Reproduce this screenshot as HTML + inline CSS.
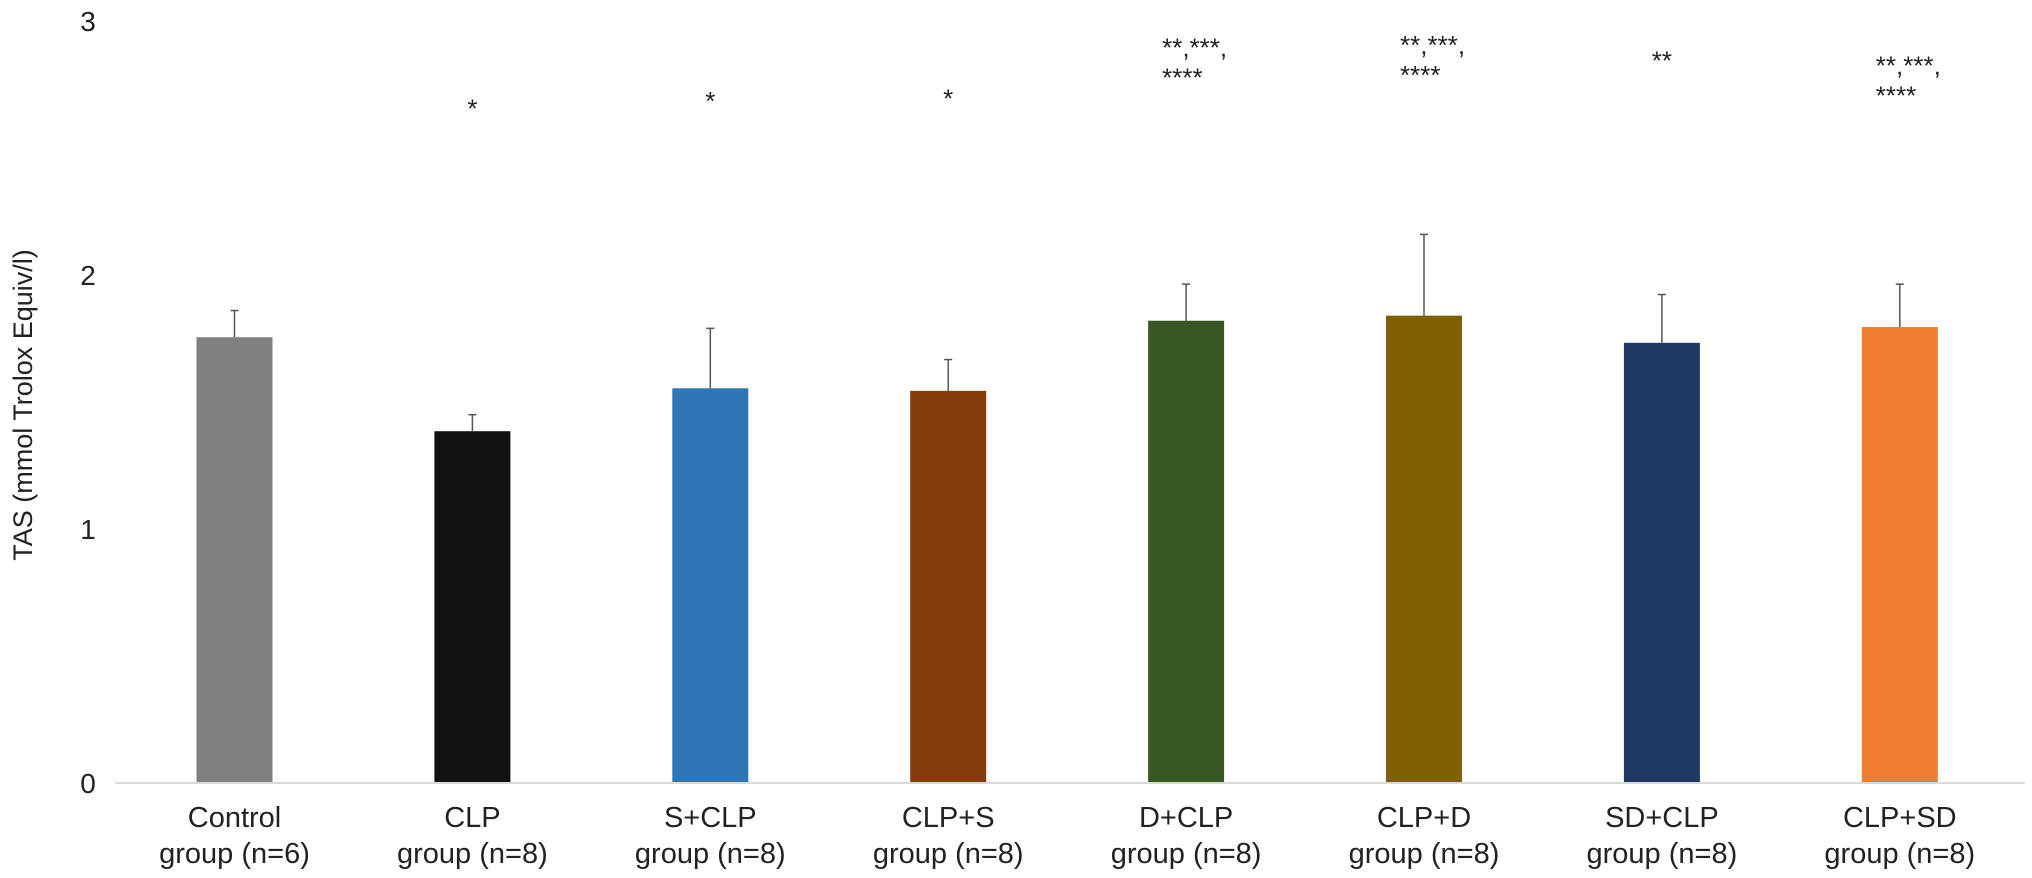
<!DOCTYPE html>
<html><head><meta charset="utf-8"><style>
html,body{margin:0;padding:0;background:#fff;}
svg{display:block;font-family:"Liberation Sans",Arial,sans-serif;}
</style></head><body>
<svg id="chart" width="2032" height="878" viewBox="0 0 2032 878" xmlns="http://www.w3.org/2000/svg">
<rect width="2032" height="878" fill="#fff"/>
<text transform="translate(32,405) rotate(-90)" text-anchor="middle" font-size="27" fill="#222">TAS (mmol Trolox Equiv/l)</text>
<g id="g"></g>
</svg>
<script>
const categories = ["Control", "CLP", "S+CLP", "CLP+S", "D+CLP", "CLP+D", "SD+CLP", "CLP+SD"];
const groupLabels = ["group (n=6)", "group (n=8)", "group (n=8)", "group (n=8)", "group (n=8)", "group (n=8)", "group (n=8)", "group (n=8)"];
const means = [1.755, 1.385, 1.554, 1.544, 1.82, 1.84, 1.733, 1.795];
const errors = [0.105, 0.065, 0.236, 0.123, 0.144, 0.32, 0.19, 0.169];
const colors = ["#7f7f7f", "#111111", "#2e75b6", "#843c0c", "#385723", "#7f6000", "#1f3864", "#ed7d31"];
const sigLine1 = ["", "*", "*", "*", "**,***,", "**,***,", "**", "**,***,"];
const sigLine2 = ["", "", "", "", "****", "****", "", "****"];
const sigValue = [0, 2.62, 2.65, 2.66, 2.86, 2.87, 2.81, 2.79];
const yTicks = [0, 1, 2, 3];

const NS = "http://www.w3.org/2000/svg";
const g = document.getElementById("g");
const baseY = 783, unit = 254, x0 = 115, x1 = 2025, spacing = 237.9, firstX = 234.5, barW = 76;
const yS = v => baseY - v * unit;
const xS = i => firstX + i * spacing;
function mk(tag, attrs, text) {
  const e = document.createElementNS(NS, tag);
  for (const k in attrs) e.setAttribute(k, attrs[k]);
  if (text !== undefined) e.textContent = text;
  g.appendChild(e);
  return e;
}
yTicks.forEach(t => {
  const e = mk("text", {x: 88, y: yS(t) + 10, "text-anchor": "middle", "font-size": 28, fill: "#222"}, String(t));
  
  
});
means.forEach((m, i) => {
  const cx = xS(i);
  const r = mk("rect", {x: cx - barW / 2, y: yS(m), width: barW, height: baseY - yS(m), fill: colors[i]});
  
  
  const et = yS(m + errors[i]);
  const l = mk("line", {x1: cx, x2: cx, y1: yS(m), y2: et, stroke: "#555", "stroke-width": 1.5});
  
  
  const c = mk("line", {x1: cx - 4, x2: cx + 4, y1: et, y2: et, stroke: "#555", "stroke-width": 1.5});
  
  
  const t1 = mk("text", {x: cx, y: 827, "text-anchor": "middle", "font-size": 29, fill: "#222"}, categories[i]);
  
  
  const t2 = mk("text", {x: cx, y: 863, "text-anchor": "middle", "font-size": 29, fill: "#222"}, groupLabels[i]);
  
  
  if (sigLine1[i]) {
    const multi = sigLine2[i] !== "";
    const sx = multi ? cx - 24 : cx;
    const anchor = multi ? "start" : "middle";
    const sy = yS(sigValue[i]);
    const s1 = mk("text", {x: sx, y: sy, "text-anchor": anchor, "font-size": 26, fill: "#222"}, sigLine1[i]);
    
    
    if (multi) {
      const s2 = mk("text", {x: sx, y: sy + 30, "text-anchor": anchor, "font-size": 26, fill: "#222"}, sigLine2[i]);
      
      
    }
  }
});
const ax = mk("line", {x1: x0, x2: x1, y1: baseY, y2: baseY, stroke: "#d9d9d9", "stroke-width": 2});


</script>
</body></html>
